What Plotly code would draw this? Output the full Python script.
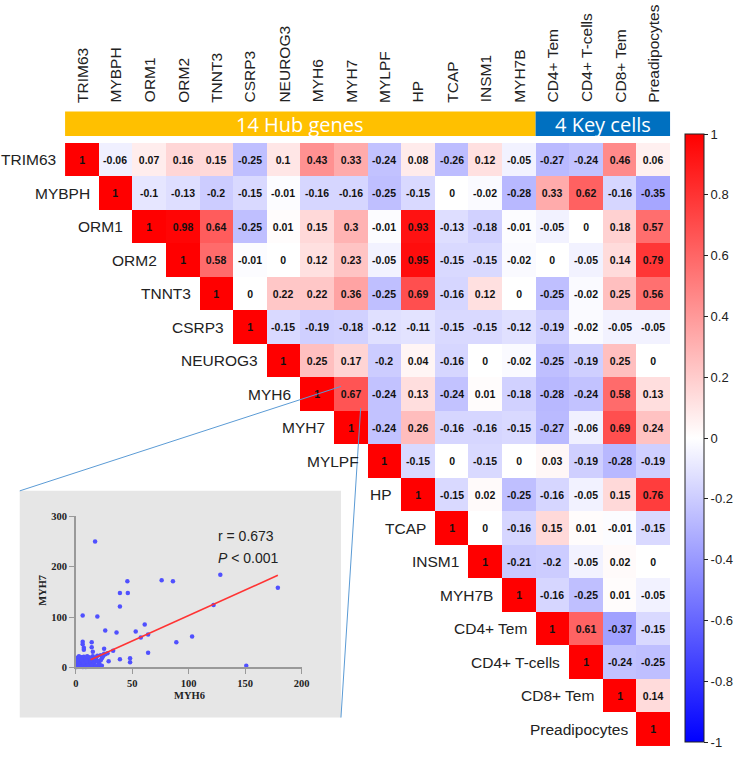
import plotly.graph_objects as go

W, H = 749, 760
def X(px): return px / W
def Y(py): return 1 - py / H

labels = ["TRIM63", "MYBPH", "ORM1", "ORM2", "TNNT3", "CSRP3", "NEUROG3", "MYH6",
          "MYH7", "MYLPF", "HP", "TCAP", "INSM1", "MYH7B", "CD4+ Tem",
          "CD4+ T-cells", "CD8+ Tem", "Preadipocytes"]

# upper triangle rows (starting from the diagonal)
r_TRIM63 = [1, -0.06, 0.07, 0.16, 0.15, -0.25, 0.1, 0.43, 0.33, -0.24, 0.08, -0.26, 0.12, -0.05, -0.27, -0.24, 0.46, 0.06]
r_MYBPH = [1, -0.1, -0.13, -0.2, -0.15, -0.01, -0.16, -0.16, -0.25, -0.15, 0, -0.02, -0.28, 0.33, 0.62, -0.16, -0.35]
r_ORM1 = [1, 0.98, 0.64, -0.25, 0.01, 0.15, 0.3, -0.01, 0.93, -0.13, -0.18, -0.01, -0.05, 0, 0.18, 0.57]
r_ORM2 = [1, 0.58, -0.01, 0, 0.12, 0.23, -0.05, 0.95, -0.15, -0.15, -0.02, 0, -0.05, 0.14, 0.79]
r_TNNT3 = [1, 0, 0.22, 0.22, 0.36, -0.25, 0.69, -0.16, 0.12, 0, -0.25, -0.02, 0.25, 0.56]
r_CSRP3 = [1, -0.15, -0.19, -0.18, -0.12, -0.11, -0.15, -0.15, -0.12, -0.19, -0.02, -0.05, -0.05]
r_NEUROG3 = [1, 0.25, 0.17, -0.2, 0.04, -0.16, 0, -0.02, -0.25, -0.19, 0.25, 0]
r_MYH6 = [1, 0.67, -0.24, 0.13, -0.24, 0.01, -0.18, -0.28, -0.24, 0.58, 0.13]
r_MYH7 = [1, -0.24, 0.26, -0.16, -0.16, -0.15, -0.27, -0.06, 0.69, 0.24]
r_MYLPF = [1, -0.15, 0, -0.15, 0, 0.03, -0.19, -0.28, -0.19]
r_HP = [1, -0.15, 0.02, -0.25, -0.16, -0.05, 0.15, 0.76]
r_TCAP = [1, 0, -0.16, 0.15, 0.01, -0.01, -0.15]
r_INSM1 = [1, -0.21, -0.2, -0.05, 0.02, 0]
r_MYH7B = [1, -0.16, -0.25, 0.01, -0.05]
r_CD4Tem = [1, 0.61, -0.37, -0.15]
r_CD4T = [1, -0.24, -0.25]
r_CD8Tem = [1, 0.14]
r_Pre = [1]

rows = [r_TRIM63, r_MYBPH, r_ORM1, r_ORM2, r_TNNT3, r_CSRP3, r_NEUROG3, r_MYH6,
        r_MYH7, r_MYLPF, r_HP, r_TCAP, r_INSM1, r_MYH7B, r_CD4Tem, r_CD4T, r_CD8Tem, r_Pre]

colorbar_ticks = [1, 0.8, 0.6, 0.4, 0.2, 0, -0.2, -0.4, -0.6, -0.8, -1]

# inset scatter (MYH6 vs MYH7)
myh6 = [0.5, 1, 1.5, 2, 0.8, 2.5, 3, 3.5, 4, 1.2, 4.5, 5, 5.5, 6, 2, 6.5, 7, 7.5, 8, 8.5,
        3, 9, 9.5, 10, 10.5, 11, 11.5, 12, 12.5, 13, 13.5, 14, 5, 15, 15.5, 16, 16.5, 17,
        18, 19, 20, 21, 20, 22, 23, 24, 7, 0.3, 0.6, 1.8, 3.2, 6.2, 8.8, 11, 14, 4.2, 2.7,
        6.8, 9.2, 12.8, 17.5, 19, 25, 28, 22, 26, 1, 2, 5, 10, 23, 20,
        6, 19, 17, 45.6, 39, 46, 39, 76, 86, 128, 179, 122, 26, 36, 53, 61, 57.5, 64, 89,
        103, 64, 48, 48, 39, 29, 151, 6, 6, 7, 7, 14, 14, 15, 25, 33]
myh7 = [2, 5, 8, 12, 15, 3, 6, 10, 14, 18, 1, 4, 8, 12, 20, 16, 2, 6, 10, 14,
        17, 18, 3, 7, 11, 15, 20, 1, 5, 9, 13, 17, 20, 22, 4, 8, 12, 16,
        20, 23, 3, 6, 10, 14, 18, 22, 21, 10, 0.5, 1, 0.8, 0.5, 0.7, 2.5, 3, 19, 22,
        9, 12.5, 19, 2, 13, 27, 28, 24, 26, 13, 7, 15, 22, 3, 6,
        103, 101, 250, 171, 148, 148, 121, 173, 171, 184, 158, 124, 73, 69, 71, 85, 59, 65, 50,
        61, 29, 18, 10, 16, 12, 3, 51, 46, 39, 35, 50, 40, 31, 37, 33]
fit_x = [13, 179]
fit_y = [15, 183]

n = len(labels)
z, txt = [], []
for i in range(n):
    zr, tr = [], []
    for j in range(n):
        if j >= i:
            v = rows[i][j - i]
            zr.append(v)
            tr.append(f"{v:g}")
        else:
            zr.append(None)
            tr.append("")
    z.append(zr)
    txt.append(tr)

# geometry (pixels)
hx0, hx1, hy0, hy1 = 63, 677, 140, 752
cw = (hx1 - hx0) / n
ch = (hy1 - hy0) / n

fig = go.Figure()
fig.add_trace(go.Heatmap(
    z=z, x=list(range(n)), y=list(range(n)), text=txt, texttemplate="%{text}",
    textfont=dict(family="Arial", size=10.5, color="#111", weight="bold"),
    colorscale=[[0, "rgb(0,0,255)"], [0.5, "rgb(255,255,255)"], [1, "rgb(255,0,0)"]],
    zmin=-1, zmax=1, xgap=0, ygap=0, hoverinfo="skip",
    colorbar=dict(
        x=X(692), xanchor="left", xpad=0, thickness=19,
        y=Y(131), yanchor="top", ypad=0, len=(748 - 131) / H, lenmode="fraction",
        outlinecolor="#222", outlinewidth=1,
        tickvals=colorbar_ticks, ticktext=[f"{t:g}" for t in colorbar_ticks],
        ticks="outside", ticklen=4, tickcolor="#222",
        tickfont=dict(family="Arial", size=13, color="#222"),
    ),
    xaxis="x", yaxis="y",
))

fig.add_trace(go.Scatter(
    x=myh6, y=myh7, mode="markers", marker=dict(color="#5050ff", size=4.5),
    xaxis="x2", yaxis="y2", hoverinfo="skip", cliponaxis=False,
))
fig.add_trace(go.Scatter(
    x=fit_x, y=fit_y, mode="lines", line=dict(color="#ff3333", width=1.6),
    xaxis="x2", yaxis="y2", hoverinfo="skip",
))

serif_b = dict(family="Liberation Serif", size=10.5, color="#222", weight="bold")

shapes = [
    # inset background
    dict(type="rect", xref="paper", yref="paper", x0=X(17), x1=X(343), y0=Y(723), y1=Y(493),
         fillcolor="#e6e6e6", line=dict(width=0), layer="below"),
    # header bars
    dict(type="rect", xref="paper", yref="paper", x0=X(hx0), x1=X(hx0 + 14 * cw), y0=Y(133), y1=Y(108),
         fillcolor="#ffc000", line=dict(width=0)),
    dict(type="rect", xref="paper", yref="paper", x0=X(hx0 + 14 * cw), x1=X(hx1), y0=Y(133), y1=Y(108),
         fillcolor="#0070c0", line=dict(width=0)),
    # zoom connector lines
    dict(type="line", xref="paper", yref="paper", x0=X(17), y0=Y(493), x1=X(343), y1=Y(387),
         line=dict(color="#5b9bd5", width=1)),
    dict(type="line", xref="paper", yref="paper", x0=X(343), y0=Y(723), x1=X(363), y1=Y(409),
         line=dict(color="#5b9bd5", width=1)),
]

ann = []
for i, lab in enumerate(labels):
    cx = hx0 + cw * (i + 0.5)
    ann.append(dict(text=lab, x=X(cx), y=Y(101), xref="paper", yref="paper",
                    xanchor="center", yanchor="bottom", textangle=-90, showarrow=False,
                    font=dict(family="Arial", size=15.5, color="#222")))
    cy = hy0 + ch * (i + 0.5)
    ann.append(dict(text=lab, x=X(hx0 + cw * i - 7), y=Y(cy), xref="paper", yref="paper",
                    xanchor="right", yanchor="middle", showarrow=False,
                    font=dict(family="Arial", size=15.5, color="#222")))

ann.append(dict(text="14 Hub genes", x=X(hx0 + 7 * cw), y=Y(121), xref="paper", yref="paper",
                showarrow=False, xanchor="center", yanchor="middle",
                font=dict(family="Open Sans", size=20, color="white")))
ann.append(dict(text="4 Key cells", x=X(hx0 + 16 * cw), y=Y(121), xref="paper", yref="paper",
                showarrow=False, xanchor="center", yanchor="middle",
                font=dict(family="Open Sans", size=20, color="white")))
ann.append(dict(text="r = 0.673", x=X(216), y=Y(539), xref="paper", yref="paper",
                showarrow=False, xanchor="left", yanchor="middle",
                font=dict(family="Arial", size=14, color="#222")))
ann.append(dict(text="<i>P</i> < 0.001", x=X(216), y=Y(561), xref="paper", yref="paper",
                showarrow=False, xanchor="left", yanchor="middle",
                font=dict(family="Arial", size=14, color="#222")))
ann.append(dict(text="MYH6", x=X(189), y=Y(701), xref="paper", yref="paper",
                showarrow=False, xanchor="center", yanchor="middle", font=serif_b))
ann.append(dict(text="MYH7", x=X(40), y=Y(594), xref="paper", yref="paper",
                showarrow=False, xanchor="center", yanchor="middle", textangle=-90, font=serif_b))

fig.update_layout(
    width=W, height=H, margin=dict(l=0, r=0, t=0, b=0),
    paper_bgcolor="white", plot_bgcolor="rgba(0,0,0,0)", showlegend=False,
    xaxis=dict(domain=[X(hx0), X(hx1)], range=[-0.5, n - 0.5], visible=False, fixedrange=True),
    yaxis=dict(domain=[Y(hy1), Y(hy0)], range=[n - 0.5, -0.5], visible=False, fixedrange=True),
    xaxis2=dict(domain=[X(74), X(303)], range=[0, 200], anchor="y2", showgrid=False, zeroline=False,
                showline=True, linecolor="#999", linewidth=1.5, ticks="outside", ticklen=5,
                tickcolor="#999", tickvals=[0, 50, 100, 150, 200], tickfont=serif_b, fixedrange=True),
    yaxis2=dict(domain=[Y(672), Y(519)], range=[0, 300], anchor="x2", showgrid=False, zeroline=False,
                showline=True, linecolor="#999", linewidth=1.5, ticks="outside", ticklen=5,
                tickcolor="#999", tickvals=[0, 100, 200, 300], tickfont=serif_b, fixedrange=True),
    shapes=shapes, annotations=ann,
)

fig.write_html("out.html", config={"displayModeBar": False},
               post_script="document.body.style.margin='0px';document.body.style.padding='0px';document.body.style.overflow='hidden';")
